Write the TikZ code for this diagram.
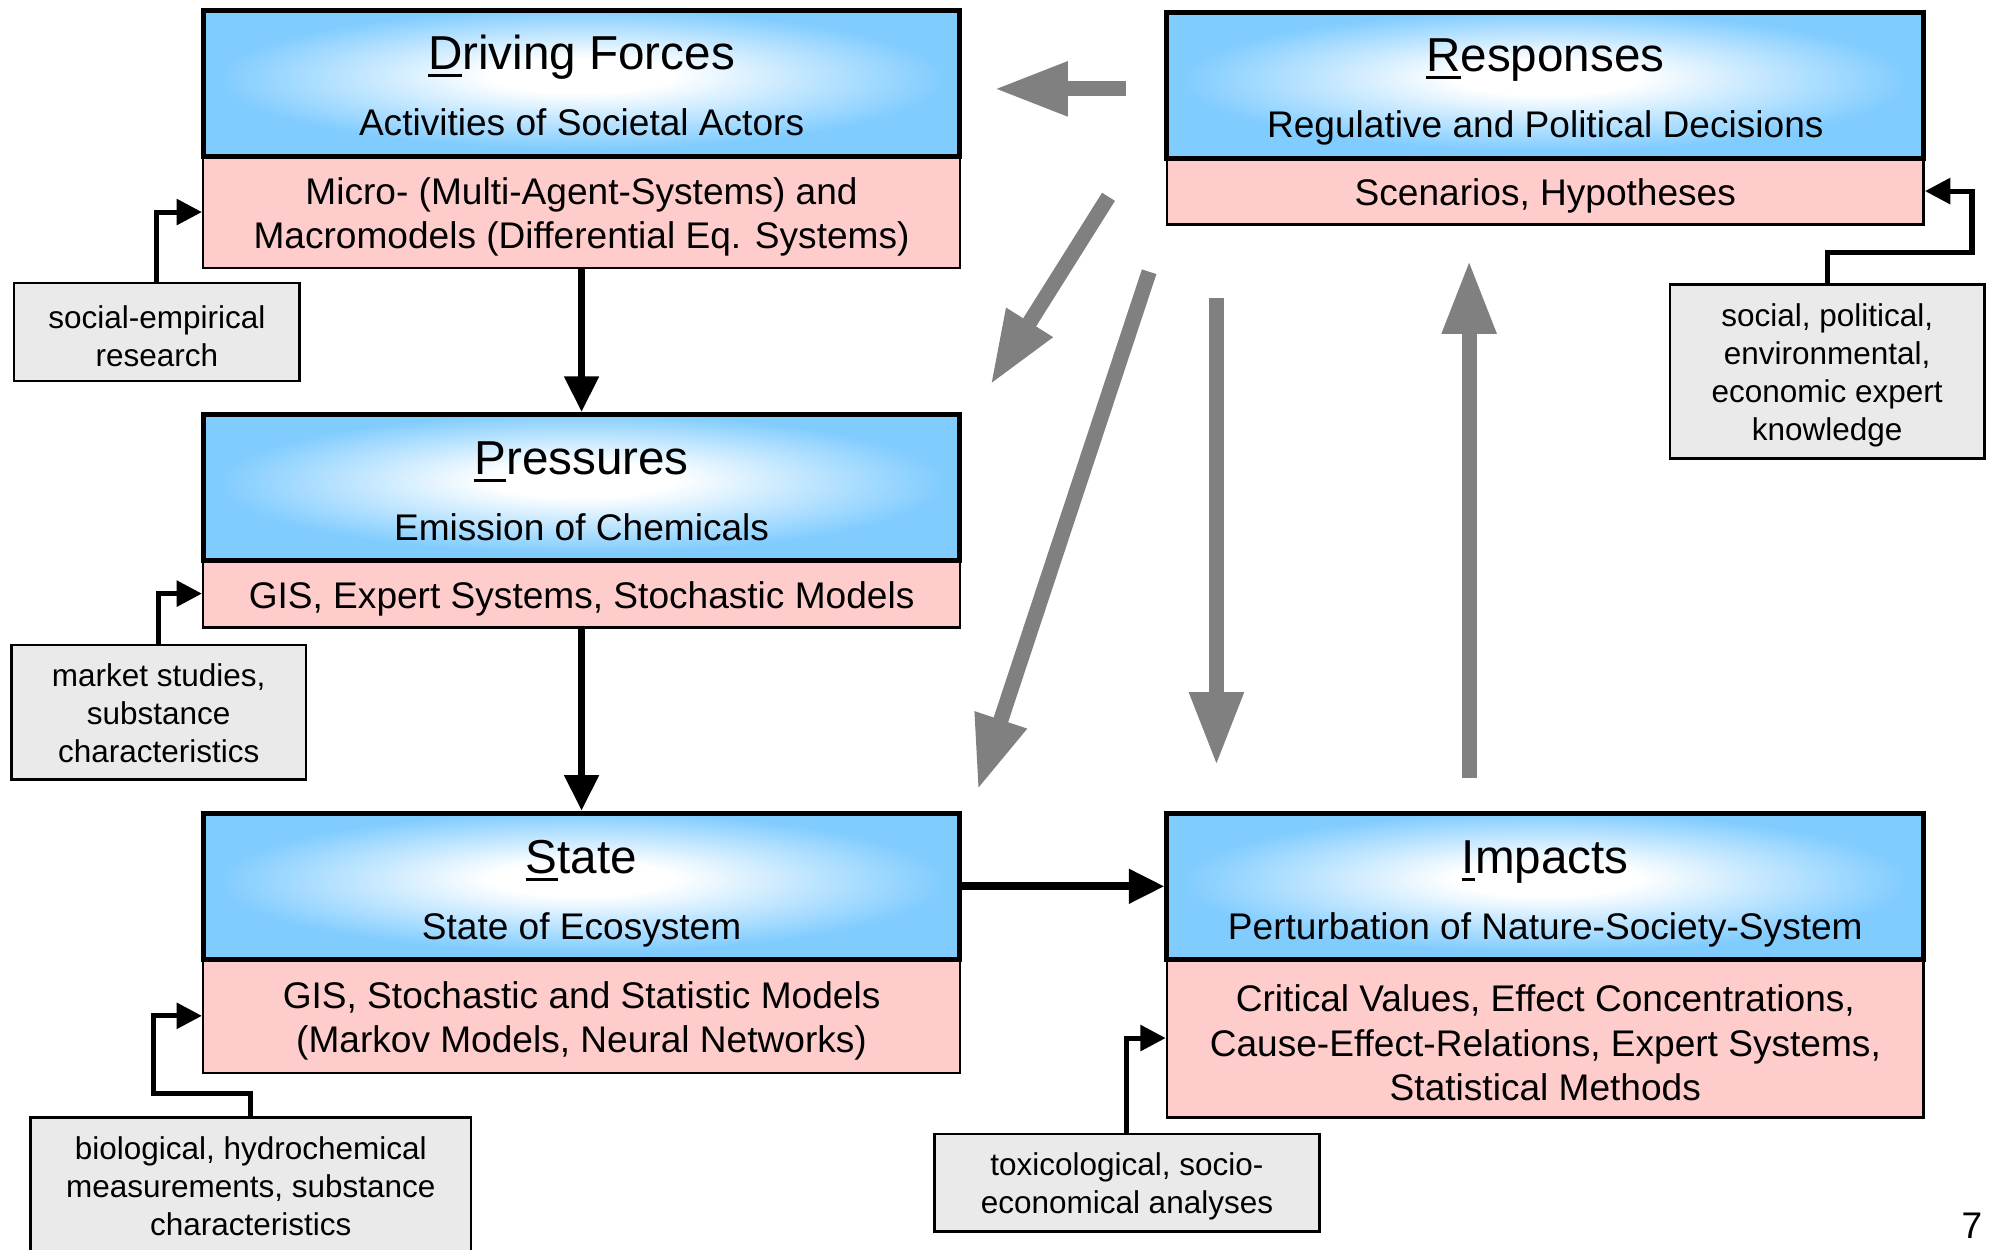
\documentclass[tikz,border=0pt]{standalone}
\usepackage{fontspec}
\setmainfont{Liberation Sans}
\usetikzlibrary{arrows.meta,calc}
\definecolor{hblue}{RGB}{128,204,255}
\definecolor{pinkc}{RGB}{255,204,204}
\definecolor{greyc}{RGB}{234,234,234}
\definecolor{arrgrey}{RGB}{128,128,128}
\pgfdeclareradialshading{hdrshade}{\pgfpoint{0bp}{3bp}}{color(0bp)=(white); color(6bp)=(white); color(24bp)=(hblue); color(50bp)=(hblue)}
\newcommand\firstul[1]{\setbox0\hbox{#1}\rlap{\rule[-2.8pt]{\wd0}{1.1pt}}\box0}
\newcommand\dtitlefont{\fontsize{18.75pt}{22pt}\selectfont}
\newcommand\dsubfont{\fontsize{14.6pt}{17.5pt}\selectfont}
\newcommand\dgreyfont{\fontsize{12.4pt}{15pt}\selectfont}
\begin{document}
\begin{tikzpicture}[x=0.5pt,y=-0.5pt,
  hdr/.style={draw, line width=2pt, shading=hdrshade, minimum width=298pt, minimum height=57.5pt, inner sep=0pt},
  pinkbox/.style={draw, line width=1pt, fill=pinkc, minimum width=298pt, inner sep=0pt},
  pinktext/.style={inner sep=0pt, align=center, font=\dsubfont, yshift=-2pt},
  greybox/.style={draw, line width=1pt, fill=greyc, inner sep=0pt},
  greytext/.style={inner sep=0pt, align=center, font=\dgreyfont, yshift=-1.5pt},
  ttl/.style={anchor=base, inner sep=0pt, font=\dtitlefont},
  sub/.style={anchor=base, inner sep=0pt, font=\dsubfont},
  garrow/.style={draw=arrgrey, line width=6pt, -{Triangle[length=29pt,width=20pt]}},
  barrow/.style={draw=black, line width=3pt, -{Triangle[length=14pt,width=13pt]}},
  conn/.style={draw=black, line width=2pt, -{Triangle[length=10pt,width=10pt]}}
]
\useasboundingbox (0,0) rectangle (1568,984);
\clip (0,0) rectangle (1568,984);

% Driving Forces
\node[pinkbox, minimum height=44pt] (dfp) at (458,167) {};
\node[pinktext] (dfpt) at (dfp.center) {Micro- (Multi-Agent-Systems) and\\Macromodels (Differential Eq. Systems)};
\node[hdr] (dfh) at (458,65.5) {};
\node[ttl] (dft) at (458,55) {\firstul{D}riving Forces};
\node[sub] (dfs) at (458,106.5) {Activities of Societal Actors};

% Pressures
\node[pinkbox, minimum height=26.5pt] (prp) at (458,467.5) {};
\node[pinktext] (prpt) at (prp.center) {GIS, Expert Systems, Stochastic Models};
\node[hdr] (prh) at (458,384) {};
\node[ttl] (prt) at (458,374) {\firstul{P}ressures};
\node[sub] (prs) at (458,425.5) {Emission of Chemicals};

% State
\node[pinkbox, minimum height=45pt] (stp) at (458,800) {};
\node[pinktext] (stpt) at (stp.center) {GIS, Stochastic and Statistic Models\\(Markov Models, Neural Networks)};
\node[hdr] (sth) at (458,698) {};
\node[ttl] (stt) at (458,688) {\firstul{S}tate};
\node[sub] (sts) at (458,739.5) {State of Ecosystem};

% Responses
\node[pinkbox, minimum height=26.5pt] (rsp) at (1217,150.5) {};
\node[pinktext] (rspt) at (rsp.center) {Scenarios, Hypotheses};
\node[hdr] (rsh) at (1217,67) {};
\node[ttl] (rst) at (1217,56.5) {\firstul{R}esponses};
\node[sub] (rss) at (1217,108.5) {Regulative and Political Decisions};

% Impacts
\node[pinkbox, minimum height=62.5pt] (imp) at (1217,817.5) {};
\node[pinktext] (impt) at (imp.center) {Critical Values, Effect Concentrations,\\Cause-Effect-Relations, Expert Systems,\\Statistical Methods};
\node[hdr] (imh) at (1217,698) {};
\node[ttl] (imt) at (1217,688) {\firstul{I}mpacts};
\node[sub] (ims) at (1217,739.5) {Perturbation of Nature-Society-System};

% grey boxes
\node[greybox, minimum width=112.5pt, minimum height=38.5pt] (g1) at (123.5,261.5) {};
\node[greytext] (g1t) at (g1.center) {social-empirical\\research};
\node[greybox, minimum width=116pt, minimum height=53pt] (g2) at (125,561) {};
\node[greytext, yshift=1pt] (g2t) at (g2.center) {market studies,\\substance\\characteristics};
\node[greybox, minimum width=173.5pt, minimum height=55pt] (g3) at (197.5,935) {};
\node[greytext, yshift=2pt] (g3t) at (g3.center) {biological, hydrochemical\\measurements, substance\\characteristics};
\node[greybox, minimum width=124pt, minimum height=68.5pt] (g4) at (1439,292.5) {};
\node[greytext] (g4t) at (g4.center) {social, political,\\environmental,\\economic expert\\knowledge};
\node[greybox, minimum width=151.5pt, minimum height=38.5pt] (g5) at (887.5,931.5) {};
\node[greytext] (g5t) at (g5.center) {toxicological, socio-\\economical analyses};

\node[font=\dsubfont, inner sep=0pt] (pg) at (1553,965) {7};

% small connectors
\draw[conn] (g1.north) |- (dfp.west);
\draw[conn] (g2.north) |- (prp.west);
\draw[conn] (g3.north) -- ++(0,-18) -| ([xshift=-19pt]stp.west) -- (stp.west);
\draw[conn] (g4.north) -- ++(0,-24) -| ([xshift=18.5pt]rsp.east) -- (rsp.east);
\draw[conn] (g5.north) |- (imp.west);

% black arrows
\draw[barrow] (dfp.south) -- (prh.north);
\draw[barrow] (prp.south) -- (sth.north);
\draw[barrow] (sth.east) -- (imh.west);

% grey arrows
\coordinate (a1s) at (887,70);  \coordinate (a1e) at (783,70);
\coordinate (a2s) at (873,155); \coordinate (a2e) at (780,303);
\coordinate (a3s) at (905,214); \coordinate (a3e) at (770,622);
\coordinate (a4s) at (958,235); \coordinate (a4e) at (958,603);
\coordinate (a5s) at (1157,613); \coordinate (a5e) at (1157,205);
\draw[garrow] (a1s) -- (a1e);
\draw[garrow] (a2s) -- (a2e);
\draw[garrow] (a3s) -- (a3e);
\draw[garrow] (a4s) -- (a4e);
\draw[garrow] (a5s) -- (a5e);
\end{tikzpicture}
\end{document}
